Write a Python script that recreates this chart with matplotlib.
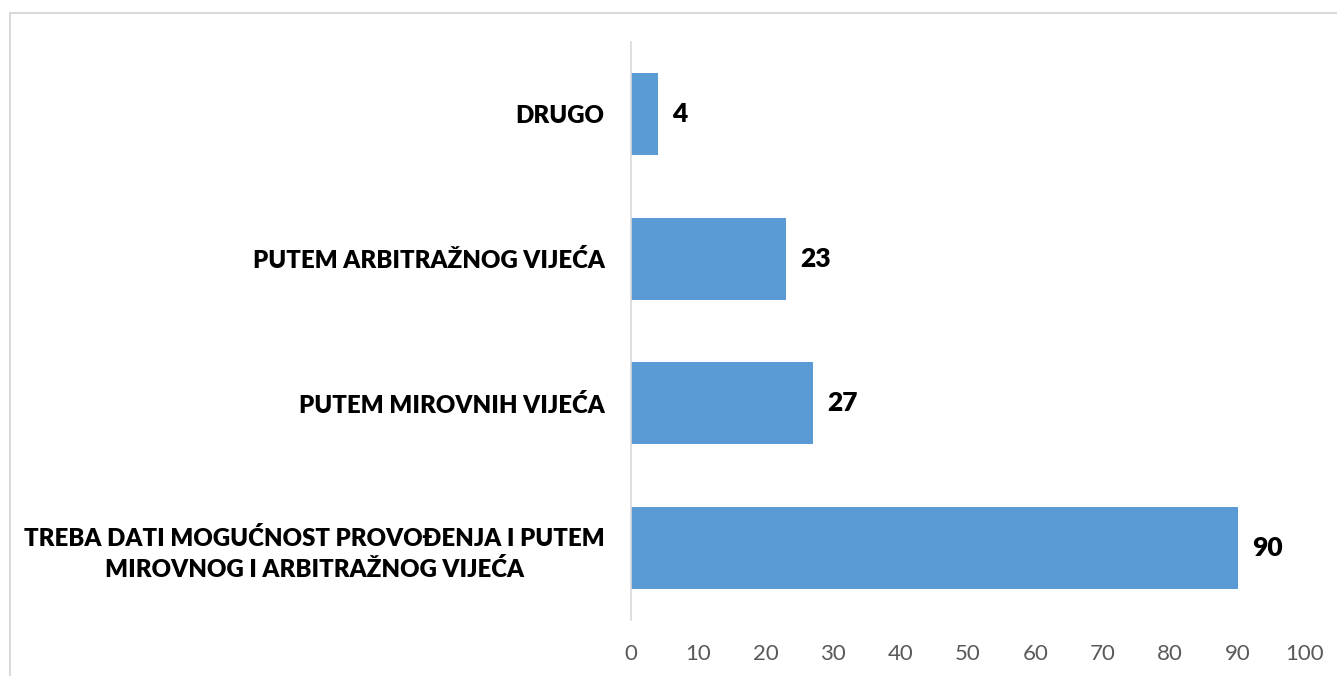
import matplotlib
matplotlib.use("Agg")
import matplotlib.pyplot as plt
from matplotlib.patches import Rectangle

categories = [
    "TREBA DATI MOGUĆNOST PROVOĐENJA I PUTEM\nMIROVNOG I ARBITRAŽNOG VIJEĆA",
    "PUTEM MIROVNIH VIJEĆA",
    "PUTEM ARBITRAŽNOG VIJEĆA",
    "DRUGO",
]
values = [90, 27, 23, 4]
xticks = [0, 10, 20, 30, 40, 50, 60, 70, 80, 90, 100]

W, H = 1337, 676
fig = plt.figure(figsize=(W / 100, H / 100), dpi=100)
fig.patch.set_facecolor("white")

# outer chart border
fig.patches.append(Rectangle((9.5 / W, -0.05), 1.2, 1 - 12.5 / H + 0.05,
                             transform=fig.transFigure, fill=False,
                             edgecolor="#D9D9D9", linewidth=1.5))

left, right = 631 / W, 1305 / W
top, bottom = 42 / H, 620 / H
ax = fig.add_axes([left, 1 - bottom, right - left, bottom - top])

ypos = list(range(len(categories)))
ax.barh(ypos, values, height=0.57, color="#5B9BD5")
ax.set_xlim(0, 100)
ax.set_ylim(-0.5, len(categories) - 0.5)
ax.set_xticks(xticks)
ax.set_xticklabels([str(t) for t in xticks], fontsize=16, color="#595959", family="Lato")
ax.set_yticks(ypos)
ax.set_yticklabels(categories, fontsize=17.3, fontweight="heavy", family="Lato",
                   ha="right", multialignment="center", linespacing=1.45)
ax.tick_params(axis="y", length=0, pad=19)
ax.tick_params(axis="x", length=0, pad=17)

for s in ["top", "right", "bottom"]:
    ax.spines[s].set_visible(False)
ax.spines["left"].set_color("#D9D9D9")
ax.spines["left"].set_linewidth(1.2)

for y, v in zip(ypos, values):
    ax.text(v + 2.1, y, str(v), va="center", ha="left", fontsize=19,
            fontweight="heavy", family="Lato", color="black")

fig.savefig("out.png", dpi=100, facecolor="white")
